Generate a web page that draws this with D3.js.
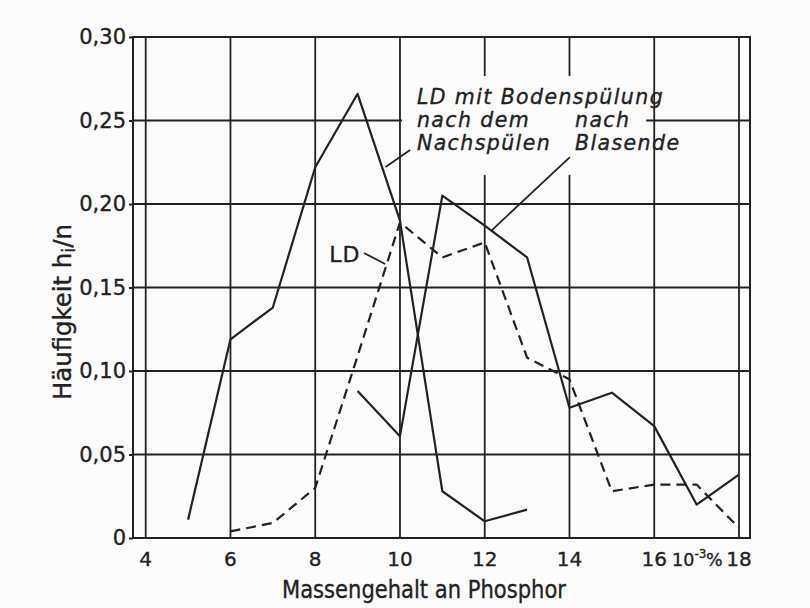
<!DOCTYPE html>
<html>
<head>
<meta charset="utf-8">
<script src="https://cdn.jsdelivr.net/npm/d3@7"></script>
<style>
  body { margin: 0; background: #fcfcfc; }
  svg { display: block; }
  text { font-family: "DejaVu Sans", sans-serif; fill: #222; stroke: #222; stroke-width: 0.35; }
</style>
</head>
<body>
<script>
// values (x in 10^-3 % P, y = h_i/n)
const xTicks = [4, 6, 8, 10, 12, 14, 16, 18];
const yTicks = [0, 0.05, 0.10, 0.15, 0.20, 0.25, 0.30];

const nachspuelenX = [5, 6, 7, 8, 9, 10, 11, 12, 13];
const nachspuelenY = [0.011, 0.119, 0.138, 0.222, 0.266, 0.190, 0.028, 0.010, 0.017];

const blasendeX = [9, 10, 11, 12, 13, 14, 15, 16, 17, 18];
const blasendeY = [0.088, 0.061, 0.205, 0.187, 0.168, 0.078, 0.087, 0.067, 0.020, 0.038];

const ldX = [6, 7, 8, 9, 10, 11, 12, 13, 14, 15, 16, 17, 18];
const ldY = [0.004, 0.009, 0.030, 0.109, 0.189, 0.168, 0.177, 0.108, 0.095, 0.028, 0.032, 0.032, 0.006];

const ink = "#222";
const W = 810, H = 608;

const x = d3.scaleLinear().domain([3.7, 18.26]).range([133, 750]);
const y = d3.scaleLinear().domain([0, 0.30]).range([538, 37]);

const svg = d3.select("body").append("svg").attr("width", W).attr("height", H);

// grid
const grid = svg.append("g").attr("stroke", ink).attr("stroke-width", 1.8);
grid.selectAll(".vg").data(xTicks).enter().append("line")
  .attr("x1", d => x(d)).attr("x2", d => x(d))
  .attr("y1", y(0.30)).attr("y2", y(0));
grid.selectAll(".hg").data(yTicks.slice(1, -1)).enter().append("line")
  .attr("y1", d => y(d)).attr("y2", d => y(d))
  .attr("x1", x.range()[0]).attr("x2", x.range()[1]);

// white block where the labels interrupt the grid
svg.append("rect")
  .attr("x", x(10.05)).attr("y", y(0.2766))
  .attr("width", x(15.81) - x(10.05)).attr("height", y(0.2174) - y(0.2766))
  .attr("fill", "#fcfcfc");

// frame
svg.append("rect")
  .attr("x", x.range()[0]).attr("y", y(0.30))
  .attr("width", x.range()[1] - x.range()[0]).attr("height", y(0) - y(0.30))
  .attr("fill", "none").attr("stroke", ink).attr("stroke-width", 2);

// y axis
const fmt = d => d === 0 ? "0" : d3.format(".2f")(d).replace(".", ",");
const yAxis = svg.append("g")
  .attr("transform", `translate(${x.range()[0]},0)`)
  .call(d3.axisLeft(y).tickValues(yTicks).tickFormat(fmt).tickSize(4).tickPadding(3));
yAxis.select(".domain").remove();
yAxis.selectAll("line").attr("stroke", ink).attr("stroke-width", 2);
yAxis.selectAll("text").attr("font-size", 21).attr("fill", ink)
  .style("font-family", '"DejaVu Sans", sans-serif');

// x tick labels
svg.append("g").selectAll("text").data(xTicks).enter().append("text")
  .attr("x", d => x(d)).attr("y", 566)
  .attr("text-anchor", "middle").attr("font-size", 20)
  .text(d => d);

// unit between 16 and 18
const unitParts = [
  ["10", 16.42, 0, 17.5],
  ["-3", 16.95, -8, 12],
  ["%", 17.22, 0, 17.5]
];
svg.append("g").selectAll("text").data(unitParts).enter().append("text")
  .attr("x", d => x(d[1])).attr("y", d => 566 + d[2])
  .attr("font-size", d => d[3]).text(d => d[0]);

// axis titles
svg.append("text").attr("x", 424).attr("y", 598)
  .attr("text-anchor", "middle").attr("font-size", 24)
  .attr("textLength", 284).attr("lengthAdjust", "spacingAndGlyphs")
  .text("Massengehalt an Phosphor");

const yt = svg.append("text")
  .attr("transform", "translate(71,312) rotate(-90)")
  .attr("text-anchor", "middle").attr("font-size", 24)
  .attr("textLength", 176).attr("lengthAdjust", "spacingAndGlyphs");
yt.append("tspan").text("Häufigkeit h");
yt.append("tspan").attr("dy", 4).attr("font-size", 18).text("i");
yt.append("tspan").attr("dy", -4).text("/n");

// series
const line = d3.line().x(d => x(d[0])).y(d => y(d[1]));
const series = [
  { xs: nachspuelenX, ys: nachspuelenY, dash: null },
  { xs: blasendeX, ys: blasendeY, dash: null },
  { xs: ldX, ys: ldY, dash: "10,6" }
];
svg.append("g").selectAll("path").data(series).enter().append("path")
  .attr("d", s => line(s.xs.map((v, i) => [v, s.ys[i]])))
  .attr("fill", "none").attr("stroke", ink).attr("stroke-width", 2.2)
  .attr("stroke-linejoin", "round")
  .attr("stroke-dasharray", s => s.dash);

// annotation block (positions in data units)
const block = [
  ["LD mit Bodenspülung", 10.40, 0.2599],
  ["nach dem", 10.40, 0.2461],
  ["nach", 14.13, 0.2461],
  ["Nachspülen", 10.40, 0.2323],
  ["Blasende", 14.13, 0.2323]
];
svg.append("g").selectAll("text").data(block).enter().append("text")
  .attr("font-size", 20.5).attr("font-style", "oblique").attr("letter-spacing", 1.4)
  .attr("x", d => x(d[1])).attr("y", d => y(d[2])).text(d => d[0]);

svg.append("text").attr("font-size", 22).attr("letter-spacing", 1)
  .attr("x", x(8.33)).attr("y", y(0.1653)).text("LD");

const pointers = [
  [10.24, 0.2323, 9.66, 0.2222],
  [14.01, 0.2281, 12.17, 0.1844],
  [9.15, 0.1707, 9.65, 0.1641]
];
svg.append("g").selectAll("line").data(pointers).enter().append("line")
  .attr("x1", d => x(d[0])).attr("y1", d => y(d[1]))
  .attr("x2", d => x(d[2])).attr("y2", d => y(d[3]))
  .attr("stroke", ink).attr("stroke-width", 1.8);
</script>
</body>
</html>
